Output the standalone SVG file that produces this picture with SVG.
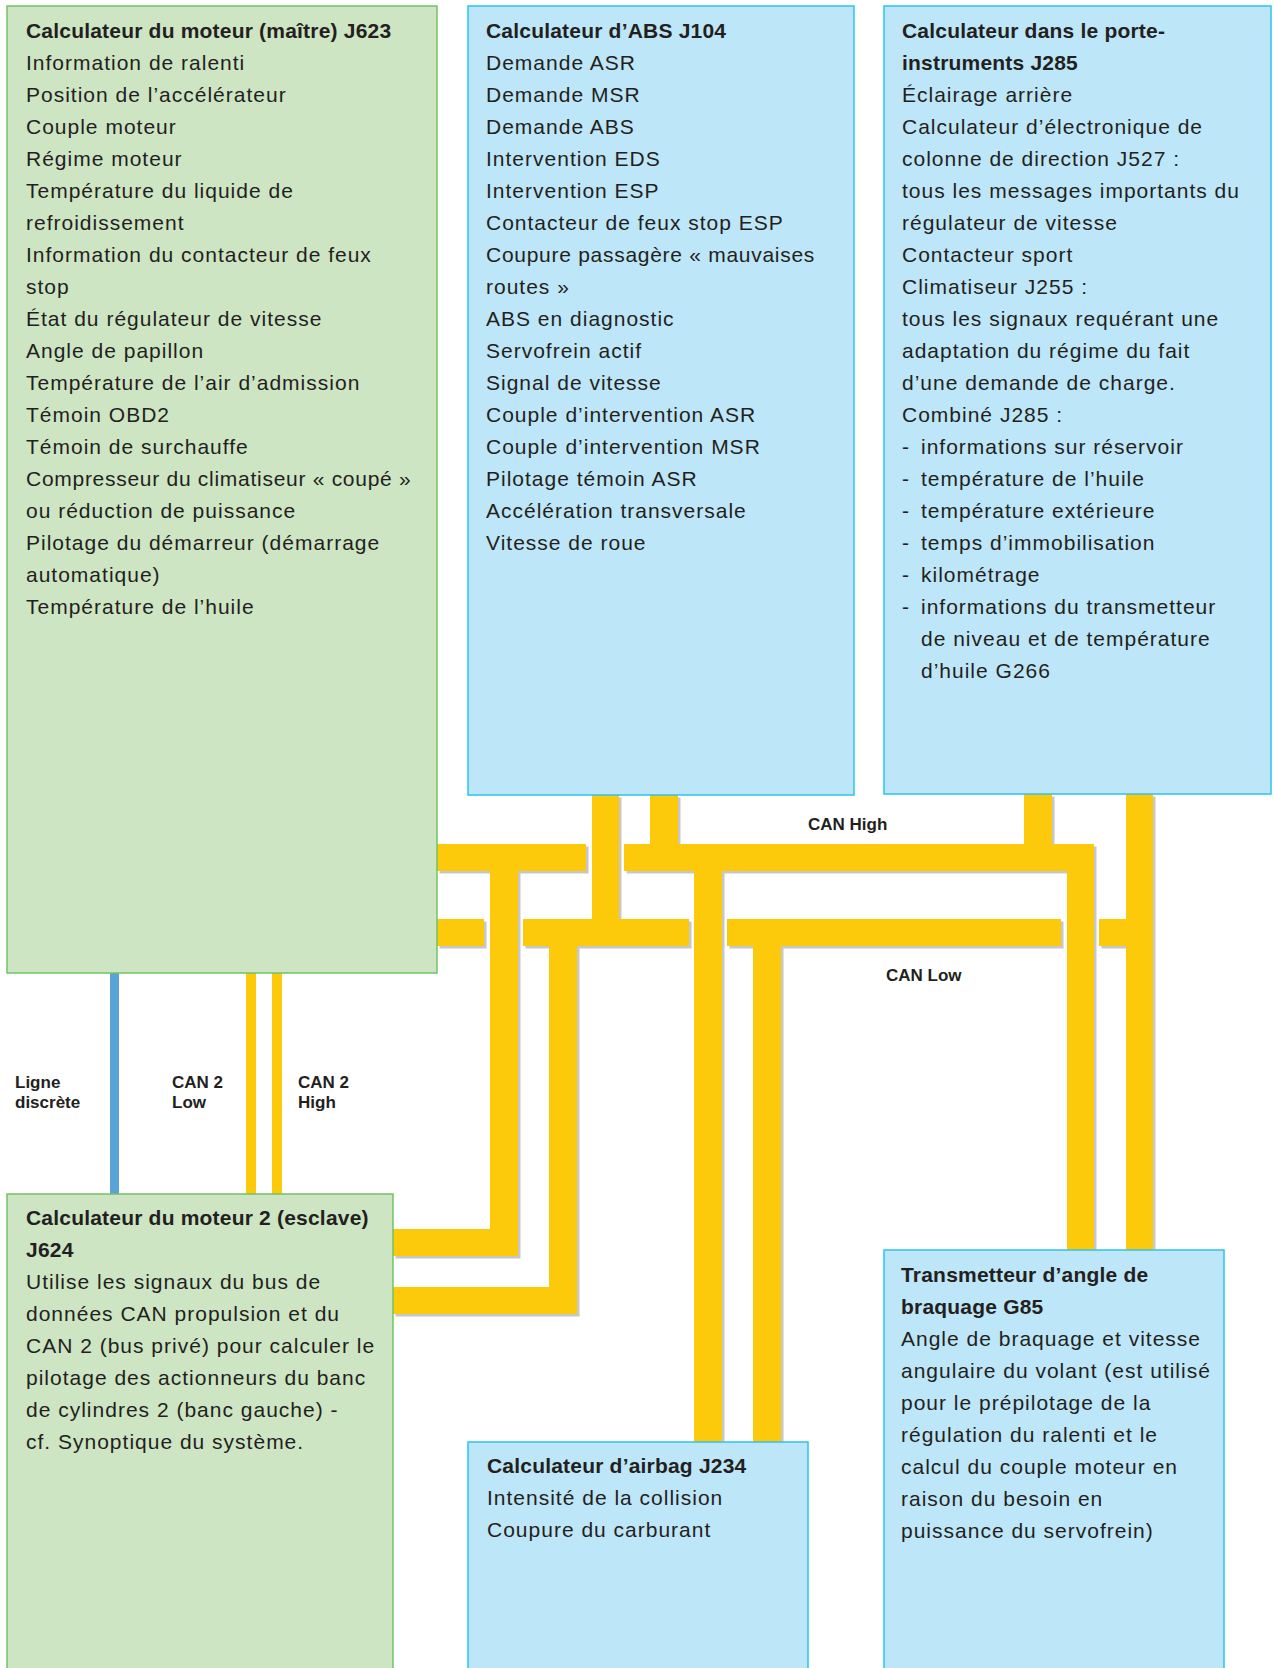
<svg xmlns="http://www.w3.org/2000/svg" width="1275" height="1668" viewBox="0 0 1275 1668">
<style>
.g{fill:#cde5c3;stroke:#72c266;stroke-width:1.5}
.b{fill:#bde6f8;stroke:#2cc3f0;stroke-width:1.5}
text{font-family:"Liberation Sans",Arial,sans-serif;fill:#231f20}
.t{font-size:21px;letter-spacing:1px}
.n{letter-spacing:0.72px}
.h{font-size:21px;font-weight:bold;letter-spacing:0.2px}
.l{font-size:17px;font-weight:bold}
.y{fill:#fdc90b}
.s{fill:#c7c7ca}
</style>
<rect width="1275" height="1668" fill="#fff"/>

<g id="connectors">
  <g id="shadows" class="s" transform="translate(2.5,2.5)">
    <rect x="437" y="844" width="149" height="27"/>
    <path d="M490 844H518V1256H393V1229H490Z"/>
    <path d="M624 844H1094V1250H1067V871H624Z"/>
    <rect x="650" y="795" width="28" height="49"/>
    <rect x="1024" y="794" width="28" height="50"/>
    <rect x="694" y="844" width="28" height="598"/>
    <rect x="437" y="919" width="47" height="27"/>
    <rect x="523" y="919" width="166" height="27"/>
    <rect x="592" y="795" width="27" height="124"/>
    <path d="M549 919H577V1314H393V1287H549Z"/>
    <rect x="727" y="919" width="334" height="27"/>
    <rect x="753" y="919" width="28" height="523"/>
    <rect x="1099" y="919" width="27" height="27"/>
    <rect x="1126" y="794" width="27" height="456"/>
  </g>
  <g id="can-high" class="y">
    <rect x="437" y="844" width="149" height="27"/>
    <path d="M490 844H518V1256H393V1229H490Z"/>
    <path d="M624 844H1094V1250H1067V871H624Z"/>
    <rect x="650" y="795" width="28" height="49"/>
    <rect x="1024" y="794" width="28" height="50"/>
    <rect x="694" y="844" width="28" height="598"/>
  </g>
  <g id="can-low" class="y">
    <rect x="437" y="919" width="47" height="27"/>
    <rect x="523" y="919" width="166" height="27"/>
    <rect x="592" y="795" width="27" height="124"/>
    <path d="M549 919H577V1314H393V1287H549Z"/>
    <rect x="727" y="919" width="334" height="27"/>
    <rect x="753" y="919" width="28" height="523"/>
    <rect x="1099" y="919" width="27" height="27"/>
    <rect x="1126" y="794" width="27" height="456"/>
  </g>
  <g id="can2">
    <rect x="110" y="973" width="9" height="221" fill="#5aa3d6"/>
    <rect x="246" y="973" width="10" height="221" fill="#fdc90b"/>
    <rect x="272" y="973" width="10" height="221" fill="#fdc90b"/>
  </g>
  <g id="labels">
    <text class="l" x="808" y="830">CAN High</text>
    <text class="l" x="886" y="981">CAN Low</text>
    <text class="l" x="15" y="1088">Ligne</text>
    <text class="l" x="15" y="1108">discrète</text>
    <text class="l" x="172" y="1088">CAN 2</text>
    <text class="l" x="172" y="1108">Low</text>
    <text class="l" x="298" y="1088">CAN 2</text>
    <text class="l" x="298" y="1108">High</text>
  </g>
</g>

<g id="j623">
  <rect class="g" x="7" y="6" width="430" height="967"/>
  <text class="h" x="26" y="38">Calculateur du moteur (maître) J623</text>
  <text class="t" x="26" y="70">Information de ralenti</text>
  <text class="t" x="26" y="102">Position de l’accélérateur</text>
  <text class="t" x="26" y="134">Couple moteur</text>
  <text class="t" x="26" y="166">Régime moteur</text>
  <text class="t" x="26" y="198">Température du liquide de</text>
  <text class="t" x="26" y="230">refroidissement</text>
  <text class="t" x="26" y="262">Information du contacteur de feux</text>
  <text class="t" x="26" y="294">stop</text>
  <text class="t" x="26" y="326">État du régulateur de vitesse</text>
  <text class="t" x="26" y="358">Angle de papillon</text>
  <text class="t" x="26" y="390">Température de l’air d’admission</text>
  <text class="t" x="26" y="422">Témoin OBD2</text>
  <text class="t" x="26" y="454">Témoin de surchauffe</text>
  <text class="t n" x="26" y="486">Compresseur du climatiseur « coupé »</text>
  <text class="t" x="26" y="518">ou réduction de puissance</text>
  <text class="t" x="26" y="550">Pilotage du démarreur (démarrage</text>
  <text class="t" x="26" y="582">automatique)</text>
  <text class="t" x="26" y="614">Température de l’huile</text>
</g>

<g id="j104">
  <rect class="b" x="468" y="6" width="386" height="789"/>
  <text class="h" x="486" y="38">Calculateur d’ABS J104</text>
  <text class="t" x="486" y="70">Demande ASR</text>
  <text class="t" x="486" y="102">Demande MSR</text>
  <text class="t" x="486" y="134">Demande ABS</text>
  <text class="t" x="486" y="166">Intervention EDS</text>
  <text class="t" x="486" y="198">Intervention ESP</text>
  <text class="t" x="486" y="230">Contacteur de feux stop ESP</text>
  <text class="t n" x="486" y="262">Coupure passagère « mauvaises</text>
  <text class="t" x="486" y="294">routes »</text>
  <text class="t" x="486" y="326">ABS en diagnostic</text>
  <text class="t" x="486" y="358">Servofrein actif</text>
  <text class="t" x="486" y="390">Signal de vitesse</text>
  <text class="t" x="486" y="422">Couple d’intervention ASR</text>
  <text class="t" x="486" y="454">Couple d’intervention MSR</text>
  <text class="t" x="486" y="486">Pilotage témoin ASR</text>
  <text class="t" x="486" y="518">Accélération transversale</text>
  <text class="t" x="486" y="550">Vitesse de roue</text>
</g>

<g id="j285">
  <rect class="b" x="884" y="6" width="387" height="788"/>
  <text class="h" x="902" y="38">Calculateur dans le porte-</text>
  <text class="h" x="902" y="70">instruments J285</text>
  <text class="t" x="902" y="102">Éclairage arrière</text>
  <text class="t" x="902" y="134">Calculateur d’électronique de</text>
  <text class="t" x="902" y="166">colonne de direction J527 :</text>
  <text class="t" x="902" y="198">tous les messages importants du</text>
  <text class="t" x="902" y="230">régulateur de vitesse</text>
  <text class="t" x="902" y="262">Contacteur sport</text>
  <text class="t" x="902" y="294">Climatiseur J255 :</text>
  <text class="t" x="902" y="326">tous les signaux requérant une</text>
  <text class="t" x="902" y="358">adaptation du régime du fait</text>
  <text class="t" x="902" y="390">d’une demande de charge.</text>
  <text class="t" x="902" y="422">Combiné J285 :</text>
  <text class="t" x="902" y="454">-</text><text class="t" x="921" y="454">informations sur réservoir</text>
  <text class="t" x="902" y="486">-</text><text class="t" x="921" y="486">température de l’huile</text>
  <text class="t" x="902" y="518">-</text><text class="t" x="921" y="518">température extérieure</text>
  <text class="t" x="902" y="550">-</text><text class="t" x="921" y="550">temps d’immobilisation</text>
  <text class="t" x="902" y="582">-</text><text class="t" x="921" y="582">kilométrage</text>
  <text class="t" x="902" y="614">-</text><text class="t" x="921" y="614">informations du transmetteur</text>
  <text class="t" x="921" y="646">de niveau et de température</text>
  <text class="t" x="921" y="678">d’huile G266</text>
</g>

<g id="j624">
  <rect class="g" x="7" y="1194" width="386" height="490"/>
  <text class="h" x="26" y="1225">Calculateur du moteur 2 (esclave)</text>
  <text class="h" x="26" y="1257">J624</text>
  <text class="t" x="26" y="1289">Utilise les signaux du bus de</text>
  <text class="t" x="26" y="1321">données CAN propulsion et du</text>
  <text class="t" x="26" y="1353">CAN 2 (bus privé) pour calculer le</text>
  <text class="t" x="26" y="1385">pilotage des actionneurs du banc</text>
  <text class="t" x="26" y="1417">de cylindres 2 (banc gauche) -</text>
  <text class="t" x="26" y="1449">cf. Synoptique du système.</text>
</g>

<g id="j234">
  <rect class="b" x="468" y="1442" width="340" height="240"/>
  <text class="h" x="487" y="1473">Calculateur d’airbag J234</text>
  <text class="t" x="487" y="1505">Intensité de la collision</text>
  <text class="t" x="487" y="1537">Coupure du carburant</text>
</g>

<g id="g85">
  <rect class="b" x="884" y="1250" width="340" height="432"/>
  <text class="h" x="901" y="1282">Transmetteur d’angle de</text>
  <text class="h" x="901" y="1314">braquage G85</text>
  <text class="t" x="901" y="1346">Angle de braquage et vitesse</text>
  <text class="t" x="901" y="1378">angulaire du volant (est utilisé</text>
  <text class="t" x="901" y="1410">pour le prépilotage de la</text>
  <text class="t" x="901" y="1442">régulation du ralenti et le</text>
  <text class="t" x="901" y="1474">calcul du couple moteur en</text>
  <text class="t" x="901" y="1506">raison du besoin en</text>
  <text class="t" x="901" y="1538">puissance du servofrein)</text>
</g>
</svg>
